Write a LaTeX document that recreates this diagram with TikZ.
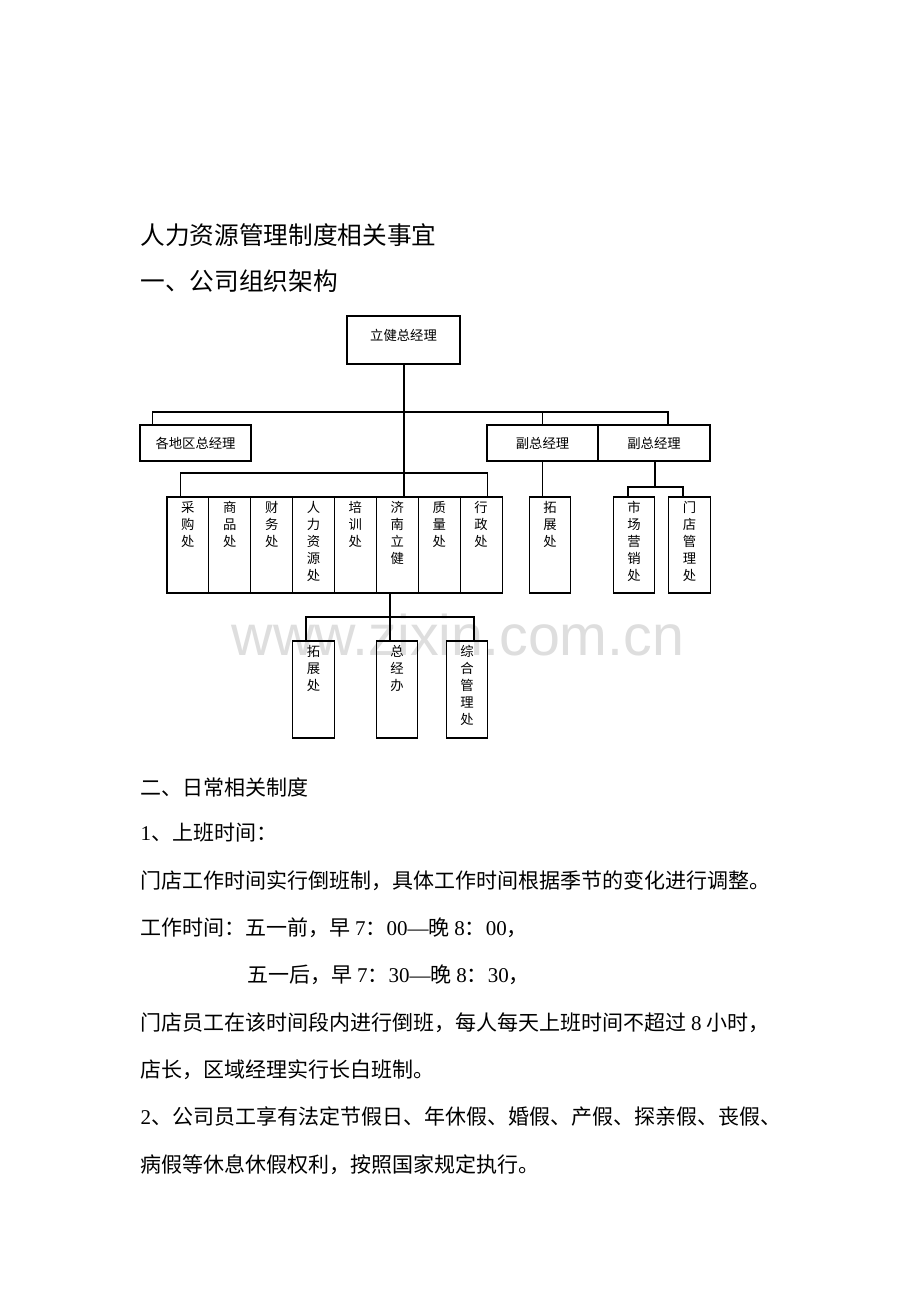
\documentclass[tikz,border=0pt]{standalone}
\usepackage{fontspec}
\setmainfont{Liberation Serif}
\newfontfamily\cjk{Noto Sans CJK SC}
\newfontfamily\wmfont{Liberation Sans}
\usepackage{tikz}
\usetikzlibrary{calc}
\newcommand{\dig}[1]{{\rmfamily #1}}
\tikzstyle{hbox}=[rectangle, draw, line width=0.8pt, inner sep=0pt,% a plain box with the text in the middle
font=\cjk\fontsize{10}{12}\selectfont]
\tikzstyle{vbox}=[rectangle, draw, line width=0.8pt, inner sep=0pt,% a tall box, text written downwards
minimum width=31.4pt, minimum height=72pt]
\tikzstyle{vtext}=[anchor=north, align=center, inner sep=3.5pt, font=\cjk\fontsize{10}{12.75}\selectfont]
\tikzstyle{link}=[line width=0.8pt]
\tikzstyle{head}=[anchor=west, inner sep=0pt, font=\cjk\fontsize{18.5}{22}\selectfont]
\tikzstyle{body}=[anchor=west, inner sep=0pt, font=\cjk\fontsize{15.75}{18}\selectfont]

\begin{document}
\begin{tikzpicture}[x=0.75pt, y=-0.75pt, link]
\fill[white] (0,0) rectangle (920,1302);
\useasboundingbox (0,0) rectangle (920,1302);
\node[text=black!13, font=\wmfont\fontsize{43}{43}\selectfont] (wm) at (458,635) {www.zixin.com.cn};

\node[head] (title) at (140,235) {人力资源管理制度相关事宜};
\node[head] (sec1) at (140,281) {一、公司组织架构};

% top of the chart
\node[hbox, minimum width=84.75pt, minimum height=36pt,
      label={[anchor=north, inner sep=0pt, yshift=-10pt, font=\cjk\fontsize{10}{12}\selectfont]north:立健总经理}] (zong) at (403.5,340) {};
\node[hbox, minimum width=83.25pt, minimum height=27pt] (gedi) at (195.5,443) {各地区总经理};
\node[hbox, minimum width=83.25pt, minimum height=27pt] (fu1) at (542.5,443) {副总经理};
\node[hbox, minimum width=84pt, minimum height=27pt] (fu2) at (654,443) {副总经理};

% departments
\node[vbox, label={[vtext]north:{采\\购\\处}}] (caigou) at (187.9,545) {};
\node[vbox, label={[vtext]north:{商\\品\\处}}] (shangpin) at (229.8,545) {};
\node[vbox, label={[vtext]north:{财\\务\\处}}] (caiwu) at (271.7,545) {};
\node[vbox, label={[vtext]north:{人\\力\\资\\源\\处}}] (renli) at (313.6,545) {};
\node[vbox, label={[vtext]north:{培\\训\\处}}] (peixun) at (355.4,545) {};
\node[vbox, label={[vtext]north:{济\\南\\立\\健}}] (jinan) at (397.3,545) {};
\node[vbox, label={[vtext]north:{质\\量\\处}}] (zhiliang) at (439.2,545) {};
\node[vbox, label={[vtext]north:{行\\政\\处}}] (xingzheng) at (481.1,545) {};

\node[vbox, label={[vtext]north:{拓\\展\\处}}] (tuozhan) at (550,545) {};
\node[vbox, label={[vtext]north:{市\\场\\营\\销\\处}}] (shichang) at (634,545) {};
\node[vbox, label={[vtext]north:{门\\店\\管\\理\\处}}] (mendian) at (689.5,545) {};

% under Jinan Lijian
\node[vbox, minimum height=72.75pt, label={[vtext]north:{拓\\展\\处}}] (tuo2) at (313.5,689.5) {};
\node[vbox, minimum height=72.75pt, label={[vtext]north:{总\\经\\办}}] (zjb) at (397,689.5) {};
\node[vbox, minimum height=72.75pt, label={[vtext]north:{综\\合\\管\\理\\处}}] (zonghe) at (467,689.5) {};

% connectors
\coordinate (bus1) at (404,412);
\coordinate (bus2) at (404,473);
\coordinate (bus3) at (390,617);
\coordinate (bus4) at (655,487);
\draw (zong.south -| bus2) -- (bus2);
\draw ($(gedi.north west)+(13,0)$) |- (bus1) -| ($(fu2.north)+(14,0)$);
\draw (fu1.north) -- (fu1.north |- bus1);
\draw ($(caigou.north)+(-7,0)$) |- (bus2) -| ($(xingzheng.north)+(6,0)$);
\draw ($(shangpin.north)+(-7,0)$) -- ($(shangpin.north)+(-7,0)$ |- bus2);
\draw ($(caiwu.north)+(-7,0)$) -- ($(caiwu.north)+(-7,0)$ |- bus2);
\draw ($(renli.north)+(-7,0)$) -- ($(renli.north)+(-7,0)$ |- bus2);
\draw ($(peixun.north)+(-7,0)$) -- ($(peixun.north)+(-7,0)$ |- bus2);
\draw ($(zhiliang.north)+(7,0)$) -- ($(zhiliang.north)+(7,0)$ |- bus2);
\draw (bus2) -- (bus2 |- jinan.north);
\draw (fu1.south) -- (fu1.south |- tuozhan.north);
\draw (fu2.south -| bus4) -- (bus4);
\draw ($(shichang.north)+(-6,0)$) |- (bus4) -| ($(mendian.north)+(-6.5,0)$);
\draw (jinan.south -| bus3) -- (bus3);
\draw ($(tuo2.north)+(-7.5,0)$) |- (bus3) -| ($(zonghe.north)+(7,0)$);
\draw (zjb.north -| bus3) -- (bus3);

% text below the chart
\node[body] (sec2) at (140,787) {二、日常相关制度};
\node[body] (l1) at (140,833) {\dig{1}、上班时间：};
\node[body] (l2) at (140,881) {门店工作时间实行倒班制，具体工作时间根据季节的变化进行调整。};
\node[body] (l3) at (140,928) {工作时间：五一前，早 \dig{7}：\dig{00—}晚 \dig{8}：\dig{00}，};
\node[body] (l4) at (247,975) {五一后，早 \dig{7}：\dig{30—}晚 \dig{8}：\dig{30}，};
\node[body] (l5) at (140,1023) {门店员工在该时间段内进行倒班，每人每天上班时间不超过 \dig{8} 小时，};
\node[body] (l6) at (140,1070) {店长，区域经理实行长白班制。};
\node[body] (l7) at (140,1117) {\dig{2}、公司员工享有法定节假日、年休假、婚假、产假、探亲假、丧假、};
\node[body] (l8) at (140,1165) {病假等休息休假权利，按照国家规定执行。};
\end{tikzpicture}
\end{document}
